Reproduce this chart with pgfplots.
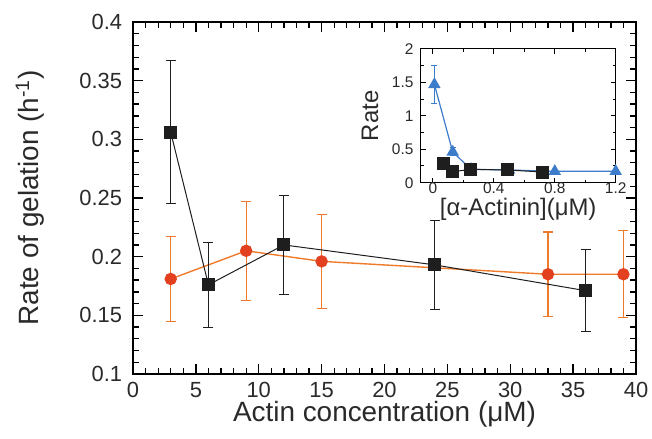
\documentclass[border=0pt]{standalone}
\usepackage{pgfplots}
\pgfplotsset{compat=1.18}
\usepackage{fontspec}
\setmainfont{Liberation Sans}
\setsansfont{Liberation Sans}
\definecolor{myblk}{HTML}{1E1E1E}
\definecolor{myorg}{HTML}{EE7A2A}
\definecolor{myred}{HTML}{E2401F}
\definecolor{myblue}{HTML}{3C7CCB}
\definecolor{txt}{HTML}{2A2A2A}

\pgfplotstableread{
x y e
3 0.306 0.061
6 0.176 0.036
12 0.210 0.042
24 0.193 0.038
36 0.171 0.035
}\blackdata

\pgfplotstableread{
x y e
3 0.181 0.036
9 0.205 0.042
15 0.196 0.040
33 0.185 0.036
39 0.185 0.037
}\orangedata

\pgfplotstableread{
x y e
0.01 1.47 0.29
0.13 0.46 0.06
0.25 0.20 0.0
0.50 0.19 0.0
0.80 0.17 0.0
1.20 0.17 0.0
}\bluedata

\pgfplotstableread{
x y
0.07 0.29
0.13 0.165
0.25 0.20
0.49 0.19
0.72 0.16
}\insetblack

\begin{document}
\begin{tikzpicture}
\path[use as bounding box] (0,0) rectangle (652bp,439bp);
\begin{axis}[
  at={(133bp,65bp)}, anchor=south west,
  scale only axis, width=503bp, height=352bp,
  xmin=0, xmax=40, ymin=0.1, ymax=0.4,
  xtick={0,5,...,40},
  ytick={0.1,0.15,0.2,0.25,0.3,0.35,0.4},
  minor x tick num=4, minor y tick num=4,
  tick align=inside,
  major tick length=10bp, minor tick length=6bp,
  every tick/.append style={black, line width=1.3pt},
  axis line style={line width=1.2pt},
  /pgf/number format/assume math mode=true,
  yticklabel style={/pgf/number format/fixed, /pgf/number format/precision=2, xshift=-7.4bp},
  xticklabel style={yshift=-4.5bp},
  tick label style={font=\fontsize{22}{24}\selectfont, text=txt},
  xlabel={Actin concentration (μM)},
  ylabel={Rate of gelation (h\textsuperscript{-1})},
  label style={font=\fontsize{28}{30}\selectfont, text=txt},
  xlabel style={at={(axis description cs:0.5,0)}, anchor=center, yshift=-40.7bp},
  ylabel style={at={(axis description cs:0,0.5)}, anchor=center, yshift=103.3bp},
]
\addplot[color=myorg, line width=1.4pt, mark=*, mark size=5.5bp,
  mark options={fill=myred, draw=myred},
  error bars/.cd, y dir=both, y explicit,
  error bar style={myorg, line width=1.1pt},
  error mark options={myorg, line width=1.1pt, mark size=5bp, rotate=90}]
  table[x=x, y=y, y error=e] {\orangedata};
\addplot[color=myblk, line width=1pt, mark=square*, mark size=6bp,
  mark options={fill=myblk, draw=myblk},
  error bars/.cd, y dir=both, y explicit,
  error bar style={myblk, line width=1pt},
  error mark options={myblk, line width=1pt, mark size=5bp, rotate=90}]
  table[x=x, y=y, y error=e] {\blackdata};
\end{axis}

\begin{axis}[
  at={(420.7bp,256.3bp)}, anchor=south west,
  scale only axis, width=195bp, height=133.7bp,
  xmin=-0.08, xmax=1.2, ymin=0, ymax=2,
  xtick={0,0.4,0.8,1.2}, minor xtick={0.2,0.6,1.0},
  ytick={0,0.5,1,1.5,2}, minor ytick={0.25,0.75,1.25,1.75},
  tick align=inside,
  major tick length=5bp, minor tick length=3bp,
  every tick/.append style={black, line width=1pt},
  axis line style={line width=1pt},
  axis background/.style={fill=white},
  /pgf/number format/assume math mode=true,
  yticklabel style={xshift=-3.8bp},
  xticklabel style={yshift=3bp},
  tick label style={font=\fontsize{15.5}{17}\selectfont, text=txt},
  xlabel={[α-Actinin](μM)},
  ylabel={Rate},
  label style={font=\fontsize{24}{26}\selectfont, text=txt},
  xlabel style={at={(axis description cs:0.5,0)}, anchor=center, yshift=-27bp},
  ylabel style={at={(axis description cs:0,0.5)}, anchor=center, yshift=50.7bp},
  clip=false,
]
\addplot[color=myblue, line width=1.2pt, mark=triangle*, mark size=6bp,
  mark options={fill=myblue, draw=myblue},
  error bars/.cd, y dir=both, y explicit,
  error bar style={myblue, line width=1pt},
  error mark options={myblue, line width=1pt, mark size=3bp, rotate=90}]
  table[x=x, y=y, y error=e] {\bluedata};
\addplot[color=myblk, line width=1pt, mark=square*, mark size=6bp,
  mark options={fill=myblk, draw=myblk}]
  table[x=x, y=y] {\insetblack};
\end{axis}
\end{tikzpicture}
\end{document}
